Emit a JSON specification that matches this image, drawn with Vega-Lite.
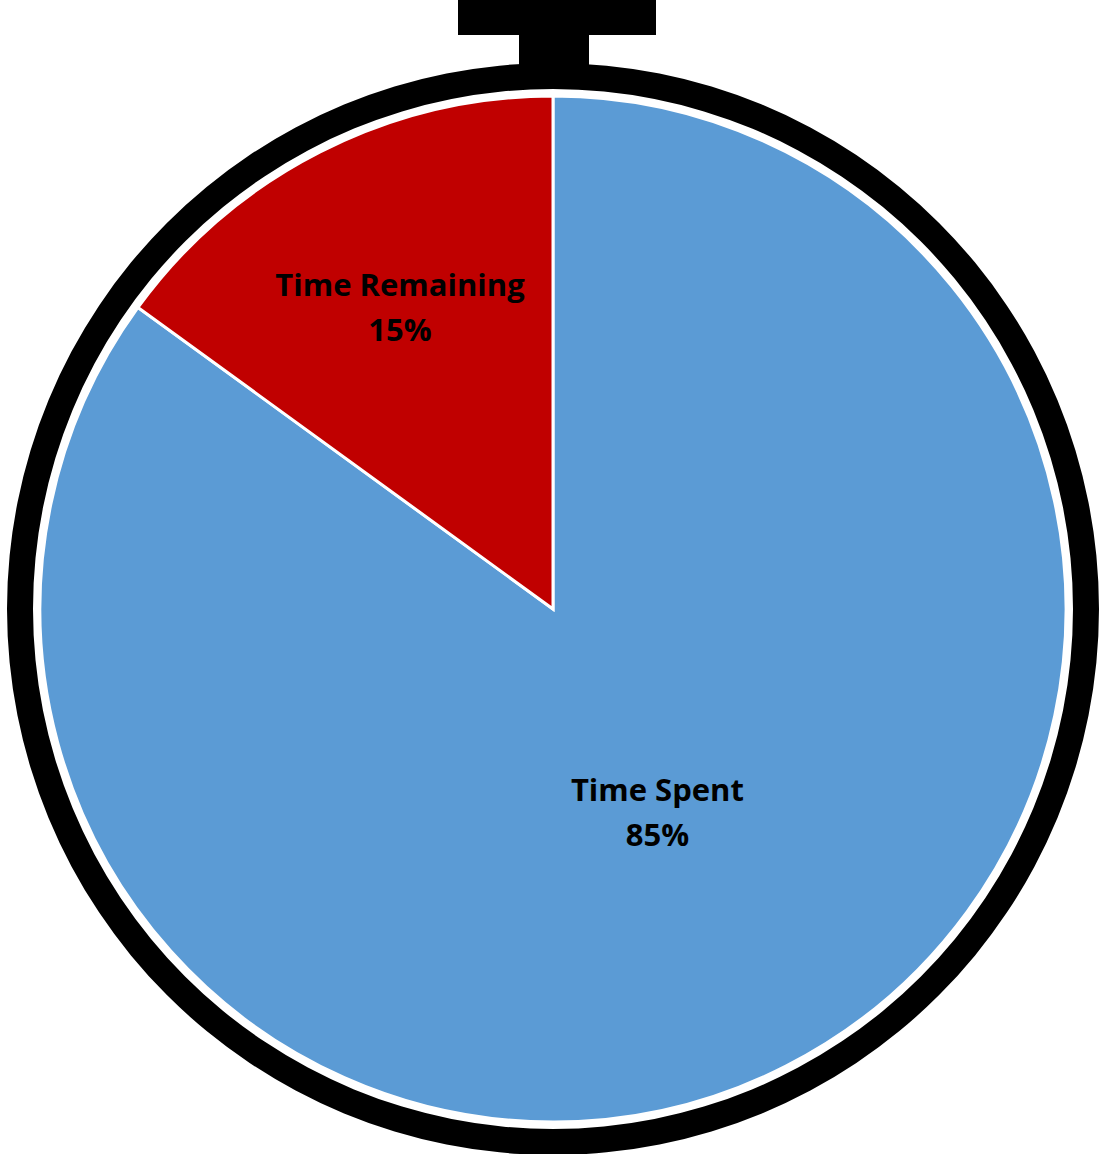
{
  "$schema": "https://vega.github.io/schema/vega-lite/v6.json",
  "width": 1106,
  "height": 1090,
  "autosize": {"type": "none"},
  "padding": {"top": 64, "left": 0, "right": 0, "bottom": 0},
  "background": "white",
  "config": {"view": {"stroke": null}},
  "datasets": {
    "slices": [
      {"category": "Time Spent", "share": 0.85},
      {"category": "Time Remaining", "share": 0.15}
    ],
    "watch": [
      {"part": "button", "x0": 458, "x1": 656, "y0": 0, "y1": 35},
      {"part": "stem", "x0": 519, "x1": 589, "y0": 34, "y1": 74}
    ]
  },
  "layer": [
    {
      "data": {"name": "watch"},
      "mark": {"type": "rect", "color": "black"},
      "encoding": {
        "x": {"field": "x0", "type": "quantitative", "scale": {"domain": [0, 1106], "range": [0, 1106]}, "axis": null},
        "x2": {"field": "x1"},
        "y": {"field": "y0", "type": "quantitative", "scale": {"domain": [0, 1154], "range": [-64, 1090]}, "axis": null},
        "y2": {"field": "y1"}
      }
    },
    {
      "data": {"name": "watch"},
      "transform": [{"filter": "datum.part == 'button'"}],
      "mark": {"type": "arc", "color": "black", "radius": 546, "radius2": 520, "theta": 0, "theta2": 6.2832},
      "encoding": {}
    },
    {
      "data": {"name": "slices"},
      "mark": {"type": "arc", "radius": 513, "stroke": "white", "strokeWidth": 3},
      "encoding": {
        "theta": {"field": "share", "type": "quantitative", "stack": true},
        "order": {"field": "category", "sort": "descending"},
        "color": {"field": "category", "type": "nominal", "scale": {"domain": ["Time Spent", "Time Remaining"], "range": ["#5B9BD5", "#C00000"]}, "legend": null}
      }
    },
    {
      "data": {"name": "slices"},
      "mark": {"type": "text", "font": "Open Sans", "fontWeight": "bold", "fontSize": 31, "color": "black", "dy": -22, "baseline": "middle", "align": "center"},
      "encoding": {
        "theta": {"field": "share", "type": "quantitative", "stack": true},
        "order": {"field": "category", "sort": "descending"},
        "radius": {"field": "share", "type": "quantitative", "scale": {"type": "linear", "domain": [0.15, 0.85], "range": [337, 230], "zero": false}, "legend": null},
        "text": {"field": "category", "type": "nominal"}
      }
    },
    {
      "data": {"name": "slices"},
      "mark": {"type": "text", "font": "Open Sans", "fontWeight": "bold", "fontSize": 31, "color": "black", "dy": 23, "baseline": "middle", "align": "center"},
      "encoding": {
        "theta": {"field": "share", "type": "quantitative", "stack": true},
        "order": {"field": "category", "sort": "descending"},
        "radius": {"field": "share", "type": "quantitative", "scale": {"type": "linear", "domain": [0.15, 0.85], "range": [337, 230], "zero": false}, "legend": null},
        "text": {"field": "share", "type": "quantitative", "format": ".0%"}
      }
    }
  ]
}
